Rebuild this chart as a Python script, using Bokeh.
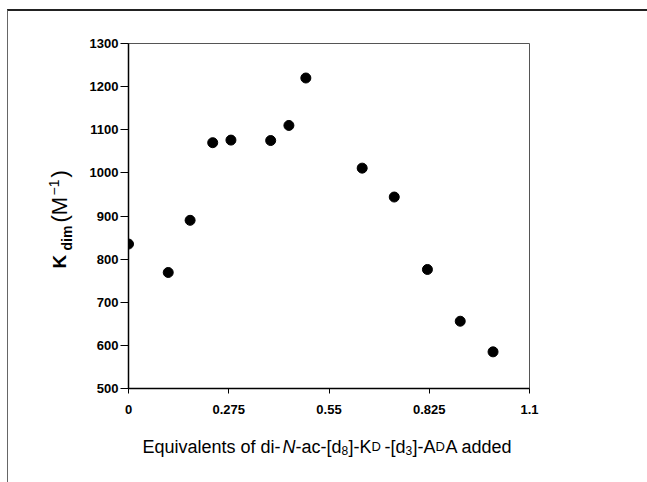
import math
from bokeh.plotting import figure
from bokeh.models import FixedTicker, ColumnDataSource, Range1d
from bokeh.layouts import row, column
from bokeh.core.properties import value
from bokeh.embed import file_html
from bokeh.resources import INLINE

# ---- data ----
equivalents = [0.0, 0.109, 0.169, 0.231, 0.281, 0.390, 0.440, 0.4865, 0.641, 0.729, 0.820, 0.910, 1.000]
k_dim = [835, 769, 890, 1070, 1076, 1075, 1110, 1220, 1011, 944, 776, 656, 585]

x_ticks = [0, 0.275, 0.55, 0.825, 1.1]
x_tick_labels = ["0", "0.275", "0.55", "0.825", "1.1"]
y_ticks = [500, 600, 700, 800, 900, 1000, 1100, 1200, 1300]
y_tick_labels = [str(v) for v in y_ticks]

FONT = "Liberation Sans"

# ---- main plot ----
p = figure(width=563, height=420, output_backend="svg", toolbar_location=None,
           x_range=(0, 1.1), y_range=(500, 1300),
           min_border_left=44, min_border_right=118, min_border_top=32, min_border_bottom=43)
p.grid.visible = False
p.outline_line_color = "#555555"
p.outline_line_width = 1
p.background_fill_color = "white"
p.border_fill_color = "white"

src = ColumnDataSource(dict(x=equivalents, y=k_dim))
p.scatter("x", "y", source=src, size=10, color="black")

for ax in (p.xaxis[0], p.yaxis[0]):
    ax.axis_line_width = 1.5
    ax.axis_line_color = "black"
    ax.major_tick_line_color = "black"
    ax.minor_tick_line_color = None
    ax.major_tick_in = 0
    ax.major_label_text_font = FONT
    ax.major_label_text_font_style = "bold"
    ax.major_label_text_font_size = "13px"
    ax.major_label_text_color = "black"
    ax.axis_label = None

p.xaxis.ticker = FixedTicker(ticks=x_ticks)
p.xaxis.major_label_overrides = dict(zip(x_ticks, x_tick_labels))
p.xaxis.major_tick_out = 5
p.xaxis.major_label_standoff = 11

p.yaxis.ticker = FixedTicker(ticks=y_ticks)
p.yaxis.major_label_overrides = dict(zip(y_ticks, y_tick_labels))
p.yaxis.major_tick_out = 8
p.yaxis.major_label_standoff = 2


# ---- label panels (ranges set so that coordinates are page pixels) ----
def panel(w, h, x0, x1, y0, y1, bl=0, br=0):
    f = figure(width=w, height=h, output_backend="svg", toolbar_location=None,
               x_range=Range1d(x0, x1), y_range=Range1d(y1, y0),
               min_border=0, min_border_left=bl, min_border_right=br,
               min_border_top=0, min_border_bottom=0)
    f.axis.visible = False
    f.grid.visible = False
    f.outline_line_color = None
    f.background_fill_color = "white"
    f.border_fill_color = "white"
    return f


def put(f, text, x, y, size, style="normal", angle=0.0):
    f.text(x=[x], y=[y], text=[text], text_font=value(FONT), text_font_size=value(size),
           text_font_style=style, text_color="black", text_baseline="alphabetic",
           text_align="left", angle=angle)


# x label panel: its frame is aligned with the main frame (page x 128..529), page y 431..482
xf = panel(563, 51, 128, 529, 431, 482, bl=44, br=118)
BL = 446
put(xf, "Equivalents of di-", 142, BL, "18px")
put(xf, "N", 282, BL, "18px", "italic")
put(xf, "-ac-[d", 295, BL, "18px")
put(xf, "8", 341, BL + 4, "12px")
put(xf, "]-K", 348, BL, "18px")
put(xf, "D", 371, BL, "13px")
put(xf, "-[d", 384, BL, "18px")
put(xf, "3", 405, BL + 4, "12px")
put(xf, "]-A", 412, BL, "18px")
put(xf, "D", 435, BL, "13px")
put(xf, "A added", 445, BL, "18px")

# y label panel: page x 8..84, page y 11..482
yf = panel(76, 471, 8, 84, 11, 482)
R = math.pi / 2
put(yf, "K", 59, 268, "19px", "bold", R)
put(yf, "dim", 66, 250, "14px", "bold", R)
put(yf, "(M", 59, 222, "22px", "normal", R)
put(yf, "\u22121", 53, 195, "14px", "normal", R)
put(yf, ")", 59, 177, "22px", "normal", R)

layout = row(yf, column(p, xf))
layout.styles = {"margin-top": "9px", "margin-left": "7px",
                 "border-top": "2px solid #222222", "border-left": "1px solid #666666"}

open("out.html", "w").write(file_html(layout, INLINE))
